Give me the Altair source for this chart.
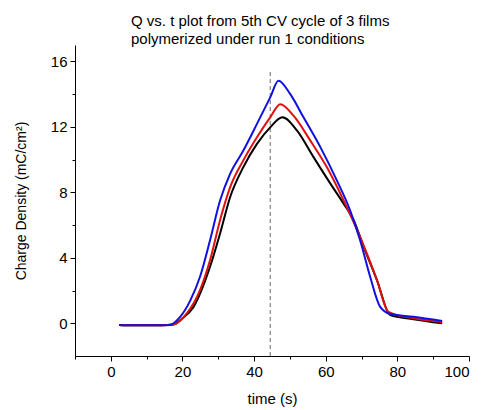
import altair as alt
import pandas as pd

# Data
t_black = [2.3, 6, 10, 14, 17.5, 20, 23.1, 27.7, 30.5, 33.3, 37.0, 40.8, 44.5, 47.9, 52.0, 56.6, 61.3, 65.0, 67.8, 70.6, 74.3, 78.0, 84.5, 92.5]
q_black = [-0.1, -0.12, -0.12, -0.12, -0.08, 0.3, 1.0, 3.45, 5.48, 7.7, 9.54, 10.96, 11.97, 12.58, 11.77, 10.15, 8.53, 7.3, 6.3, 4.67, 2.64, 0.5, 0.25, 0.0]

t_red = [2.3, 6, 10, 14, 17.5, 21.2, 24.9, 27.7, 30.5, 33.3, 37.0, 40.8, 44.5, 47.3, 51.0, 55.7, 60.3, 65.0, 69.6, 74.3, 77.5, 84.5, 92.5]
q_red = [-0.1, -0.12, -0.12, -0.12, -0.08, 0.6, 2.03, 3.85, 6.3, 8.3, 9.95, 11.36, 12.58, 13.38, 12.68, 11.16, 9.54, 7.5, 5.27, 2.64, 0.7, 0.3, 0.08]

t_blue = [2.3, 6, 10, 14, 16.5, 19.4, 22.2, 24.9, 27.7, 30.5, 33.3, 37.0, 40.8, 44.5, 46.8, 50.1, 53.8, 58.5, 63.1, 66.8, 69.6, 72.4, 75.2, 78.0, 84.5, 92.5]
q_blue = [-0.1, -0.12, -0.12, -0.12, -0.1, 0.4, 1.4, 2.84, 5.07, 7.5, 9.13, 10.55, 12.18, 13.8, 14.82, 14.0, 12.58, 10.76, 8.73, 6.9, 5.07, 2.84, 1.0, 0.57, 0.4, 0.14]

marker_t = [44.5]
marker_q_top = [15.4]

x_ticks = [-10, 0, 10, 20, 30, 40, 50, 60, 70, 80, 90, 100]
y_ticks = [0, 2, 4, 6, 8, 10, 12, 14, 16]

FONT = "Liberation Sans"

x_scale = alt.Scale(domain=[-10, 100], nice=False, zero=False)
y_scale = alt.Scale(domain=[-2, 17], nice=False, zero=False)

x_axis = alt.Axis(
    title="time (s)", values=x_ticks,
    labelExpr="datum.value % 20 === 0 ? datum.label : ''",
    tickSize={"condition": {"test": "datum.value % 20 === 0", "value": 5}, "value": 3},
    grid=False, domainColor="black", tickColor="black", labelColor="black",
    labelFont=FONT, labelFontSize=15, titleFont=FONT, titleFontSize=15,
    titleFontWeight="normal", titleColor="black", labelPadding=3, titlePadding=12,
)
y_axis = alt.Axis(
    title="Charge Density (mC/cm²)", values=y_ticks,
    labelExpr="datum.value % 4 === 0 ? datum.label : ''",
    tickSize={"condition": {"test": "datum.value % 4 === 0", "value": 5}, "value": 3},
    grid=False, domainColor="black", tickColor="black", labelColor="black",
    labelFont=FONT, labelFontSize=15, titleFont=FONT, titleFontSize=14,
    titleFontWeight="normal", titleColor="black", labelPadding=3, titlePadding=22,
)


def series(t, q, color):
    df = pd.DataFrame({"t": t, "q": q})
    return alt.Chart(df).mark_line(color=color, strokeWidth=2, interpolate="monotone").encode(
        x=alt.X("t:Q", scale=x_scale, axis=x_axis),
        y=alt.Y("q:Q", scale=y_scale, axis=y_axis),
    )


rule_df = pd.DataFrame({"t": marker_t, "y0": [-2], "y1": marker_q_top})
rule = alt.Chart(rule_df).mark_rule(color="#666666", strokeDash=[4, 3], strokeWidth=1).encode(
    x=alt.X("t:Q", scale=x_scale, axis=x_axis),
    y=alt.Y("y0:Q", scale=y_scale, axis=y_axis),
    y2="y1:Q",
)

chart = alt.layer(
    rule,
    series(t_black, q_black, "#000000"),
    series(t_red, q_red, "#e01010"),
    series(t_blue, q_blue, "#1010e0"),
).properties(
    width=394, height=311,
    title=alt.TitleParams(
        text=["Q vs. t plot from 5th CV cycle of 3 films", "polymerized under run 1 conditions"],
        anchor="start", frame="group", dx=56, dy=6, fontSize=15, fontWeight="normal", font=FONT,
        color="black", lineHeight=18, offset=4,
    ),
    autosize=alt.AutoSizeParams(type="none"),
    padding={"left": 75, "top": 45, "right": 16, "bottom": 54},
).configure_view(stroke=None)

chart.save("out.html", embed_options={"renderer": "svg", "actions": False})
